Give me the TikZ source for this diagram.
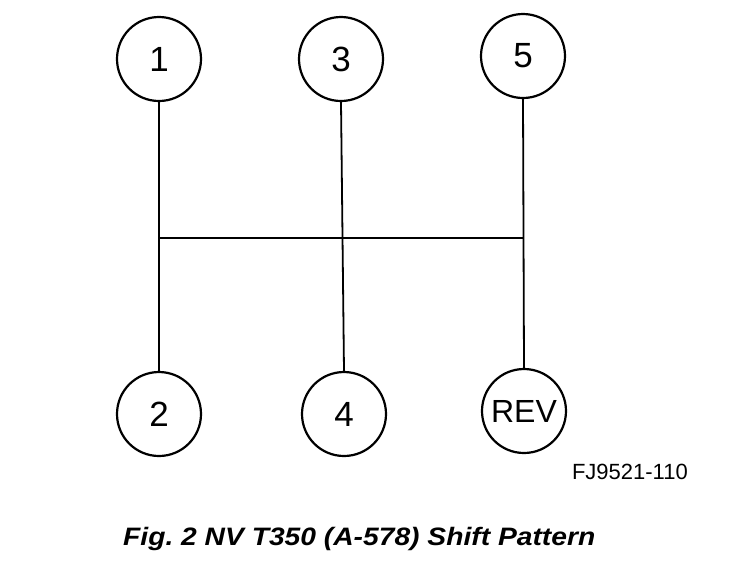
\documentclass[tikz,border=0pt]{standalone}
\usepackage{fontspec}
\setmainfont{Liberation Sans}
\begin{document}
\begin{tikzpicture}[x=1pt,y=-1pt,
  gear/.style={draw,circle,line width=2.2pt,minimum size=84pt,inner sep=0pt,font=\fontsize{35}{40}\selectfont},
  rod/.style={line width=1.8pt},
  cross/.style={line width=1.4pt}]
\useasboundingbox (0,0) rectangle (736,566);
\node[gear] (n1) at (159,59) {1};
\node[gear] (n3) at (341,59) {3};
\node[gear] (n5) at (523,56) {5};
\node[gear] (n2) at (159,414) {2};
\node[gear] (n4) at (344,414) {4};
\node[gear,font=\fontsize{32}{36}\selectfont] (nr) at (524,411) {REV};
\draw[rod] (n1.south) -- (n2.north);
\draw[rod] (n3.south) -- (n4.north);
\draw[rod] (n5.south) -- (nr.north);
\coordinate (hl) at (159,238);
\coordinate (hr) at (523.5,238);
\draw[cross] (hl) -- (hr);
\node[anchor=east,inner sep=0pt] (code) at (688,472) {\fontsize{22}{24}\selectfont FJ9521-110};
\node[anchor=west,inner sep=0pt] (cap) at (123,539) {\scalebox{1.12}[1]{\fontsize{25.2}{28}\selectfont\bfseries\itshape Fig.\ 2 NV T350 (A-578) Shift Pattern}};
\end{tikzpicture}
\end{document}
